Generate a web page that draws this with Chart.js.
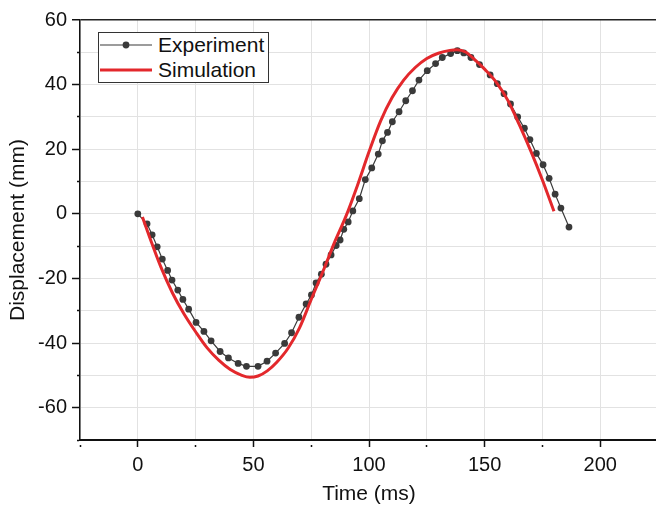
<!DOCTYPE html>
<html>
<head>
<meta charset="utf-8">
<script src="https://cdn.jsdelivr.net/npm/chart.js@4.4.1/dist/chart.umd.min.js"></script>
<style>
  html, body { margin: 0; padding: 0; background: #fff; overflow: hidden; }
  #wrap { position: relative; width: 656px; height: 506px; overflow: hidden; }
  #chart { position: absolute; left: 0; top: 0; }
  #legend {
    position: absolute; left: 98px; top: 32px; width: 171px; height: 51px;
    box-sizing: border-box; border: 1px solid #333; background: #fff;
    font-family: "Liberation Sans", Arial, sans-serif; font-size: 21px; color: #111;
  }
  .item { position: absolute; left: 1px; height: 24px; display: flex; align-items: center; }
  .item svg { margin-right: 6px; }
</style>
</head>
<body>
<div id="wrap">
  <canvas id="chart" width="664" height="506"></canvas>
  <div id="legend"></div>
</div>
<script>
// experiment
const expTime = [0, 4.0, 6.2, 8.4, 10.6, 12.9, 14.8, 17.3, 19.5, 22.0,
  25.2, 28.6, 31.7, 35.6, 39.2, 43.4, 47.0, 52.0, 55.9, 59.6,
  63.5, 66.5, 69.7, 72.8, 75.1, 77.1, 79.4, 81.4, 83.6, 85.8,
  87.5, 89.1, 91.0, 93.0, 95.8, 98.4, 101.2, 104.0, 105.8, 108.0,
  110.1, 113.0, 115.9, 118.8, 121.6, 125.2, 128.8, 131.7, 135.3, 138.2,
  141.0, 144.1, 147.8, 152.4, 155.5, 158.4, 161.2, 164.3, 167.2, 169.6,
  172.4, 175.3, 177.9, 180.5, 183.0, 186.5];
const expDisp = [0, -3.1, -6.5, -10.2, -14.0, -17.5, -20.5, -23.6, -26.5, -29.5,
  -33.6, -36.4, -39.3, -42.6, -44.6, -46.3, -47.2, -47.2, -45.6, -43.1,
  -40.1, -36.8, -32.0, -27.9, -25.1, -21.4, -18.7, -15.6, -12.7, -9.8,
  -8.1, -4.8, -2.5, 0.9, 4.7, 10.6, 14.2, 18.5, 22.6, 25.2,
  28.5, 31.6, 35.0, 38.1, 41.4, 44.3, 46.5, 48.4, 49.6, 50.5,
  49.8, 48.4, 46.2, 43.0, 40.3, 37.2, 34.0, 30.0, 26.5, 23.0,
  18.7, 15.2, 11.0, 6.1, 1.8, -4.1];

// simulation
const simTime = [2, 5, 10, 15, 20, 25, 30, 35, 40, 45, 48.5, 52, 56, 60, 65, 70, 75, 80, 85, 90,
  95, 100, 105, 110, 115, 120, 125, 130, 135, 138, 142, 145, 150, 155, 160, 165, 170, 175, 180];
const simDisp = [-1, -7, -16.5, -24.5, -31, -36.5, -41.5, -45.3, -48.2, -50, -50.6, -50.2, -48.6, -46, -41.6, -35.2, -26.5, -18, -9, -0.8,
  8.8, 19.2, 28.7, 36, 41.4, 45.3, 48.1, 49.7, 50.6, 50.8, 50, 48.2, 44.8, 40.8, 35.2, 27.6, 19.4, 10.5, 0.8];

const seriesNames = ["Experiment", "Simulation"];
const xTickLabels = [0, 50, 100, 150, 200];
const yTickLabels = [-60, -40, -20, 0, 20, 40, 60];

const expColor = "#3a3a3a";
const simColor = "#e3282c";
const font = "'Liberation Sans', Arial, sans-serif";

function toPoints(xs, ys) {
  return xs.map((x, i) => ({ x: x, y: ys[i] }));
}

new Chart(document.getElementById("chart"), {
  type: "line",
  data: {
    datasets: [
      {
        label: seriesNames[0],
        data: toPoints(expTime, expDisp),
        borderColor: expColor,
        borderWidth: 1.2,
        pointRadius: 3.4,
        pointBackgroundColor: expColor,
        pointBorderWidth: 0,
        tension: 0,
        order: 1
      },
      {
        label: seriesNames[1],
        data: toPoints(simTime, simDisp),
        borderColor: simColor,
        borderWidth: 3,
        pointRadius: 0,
        cubicInterpolationMode: "monotone",
        order: 0
      }
    ]
  },
  options: {
    responsive: false,
    animation: false,
    devicePixelRatio: 1,
    layout: { padding: { top: 20, right: 0, left: 0, bottom: 0 } },
    plugins: { legend: { display: false }, tooltip: { enabled: false } },
    scales: {
      x: {
        type: "linear",
        min: -25,
        max: 225,
        afterFit: (s) => { s.height = 66; },
        ticks: {
          stepSize: 25,
          autoSkip: false,
          maxRotation: 0,
          padding: 6,
          color: "#111",
          font: { family: font, size: 20 },
          callback: (v) => xTickLabels.includes(v) ? String(v) : ""
        },
        grid: {
          color: "#e2e2e2",
          lineWidth: 1,
          tickLength: 7,
          tickColor: "#111",
          tickWidth: 1.5,
          tickBorderDash: (ctx) => xTickLabels.includes(ctx.tick.value) ? [] : [0, 4, 3]
        },
        border: { color: "#111", width: 2 },
        title: {
          display: true,
          text: "Time (ms)",
          color: "#111",
          font: { family: font, size: 21, lineHeight: 1 },
          padding: { top: 0, bottom: 1 }
        }
      },
      y: {
        min: -70,
        max: 60,
        afterFit: (s) => { s.width = 80; },
        ticks: {
          stepSize: 10,
          autoSkip: false,
          padding: 5,
          color: "#111",
          font: { family: font, size: 20 },
          callback: (v) => yTickLabels.includes(v) ? String(v) : ""
        },
        grid: {
          color: (ctx) => ctx.tick && ctx.tick.value === 60 ? "#222" : "#e2e2e2",
          lineWidth: (ctx) => ctx.tick && ctx.tick.value === 60 ? 1.5 : 1,
          tickLength: 8,
          tickColor: "#111",
          tickWidth: 1.5,
          tickBorderDash: (ctx) => yTickLabels.includes(ctx.tick.value) ? [] : [0, 5, 3]
        },
        border: { color: "#111", width: 1.5 },
        title: {
          display: true,
          text: "Displacement (mm)",
          color: "#111",
          font: { family: font, size: 21, lineHeight: 1 },
          padding: { top: 8, bottom: 0 }
        }
      }
    }
  }
});

// legend box drawn as html
const legend = document.getElementById("legend");
const legendStyles = [
  { color: expColor, width: 1.2, dot: true },
  { color: simColor, width: 3, dot: false }
];
const legendTops = [0, 25];
seriesNames.forEach((name, i) => {
  const st = legendStyles[i];
  const item = document.createElement("div");
  item.className = "item";
  item.style.top = legendTops[i] + "px";
  item.innerHTML = `
    <svg width="52" height="12">
      <line x1="0" y1="6" x2="52" y2="6" stroke="${st.color}" stroke-width="${st.width}"/>
      ${st.dot ? `<circle cx="26" cy="6" r="3.4" fill="${st.color}"/>` : ""}
    </svg><span>${name}</span>`;
  legend.appendChild(item);
});
</script>
</body>
</html>
